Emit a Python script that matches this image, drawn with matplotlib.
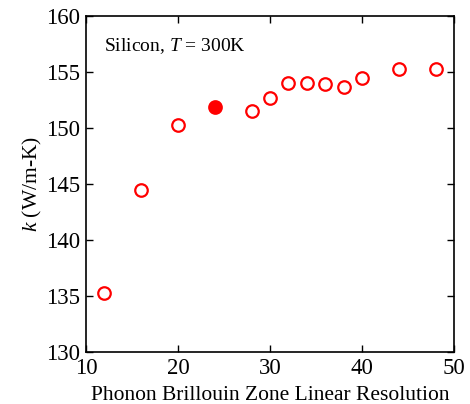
import matplotlib
matplotlib.use("Agg")
import matplotlib.pyplot as plt

plt.rcParams['font.family'] = ['Liberation Serif', 'DejaVu Serif']
plt.rcParams['mathtext.fontset'] = 'custom'
plt.rcParams['mathtext.it'] = 'Liberation Serif:italic'
plt.rcParams['mathtext.rm'] = 'Liberation Serif'

# BZ linear resolution vs thermal conductivity
resolution = [12, 16, 20, 28, 30, 32, 34, 36, 38, 40, 44, 48]
conductivity = [135.3, 144.5, 150.3, 151.5, 152.7, 154.0, 154.0, 153.9,
                153.7, 154.5, 155.3, 155.3]
chosen_res = [24]
chosen_k = [151.9]

fig = plt.figure(figsize=(4.70, 4.04), dpi=100)
ax = fig.add_axes([86 / 470, 1 - 352 / 404, 368 / 470, 336 / 404])

ax.plot(resolution, conductivity, 'o', mfc='white', mec='red',
        mew=1.6, ms=9, linestyle='none')
ax.plot(chosen_res, chosen_k, 'o', mfc='red', mec='red', mew=1.6, ms=9,
        linestyle='none')

ax.set_xlim(10, 50)
ax.set_ylim(130, 160)
ax.set_xticks([10, 20, 30, 40, 50])
ax.set_yticks([130, 135, 140, 145, 150, 155, 160])
ax.tick_params(direction='in', top=True, right=True, length=5, width=1,
               labelsize=16.5, pad=4)
for s in ax.spines.values():
    s.set_linewidth(1.2)

ax.set_xlabel('Phonon Brillouin Zone Linear Resolution', fontsize=15.5,
              labelpad=5)
ax.set_ylabel('$k$ (W/m-K)', fontsize=15.5, labelpad=2)

ax.text(0.05, 0.91, 'Silicon, $T$ = 300K', transform=ax.transAxes,
        fontsize=14, va='center', ha='left')

fig.savefig('out.png', dpi=100)
